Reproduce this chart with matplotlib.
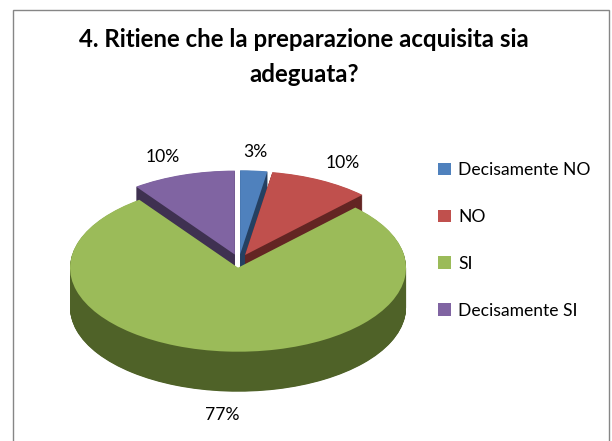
import matplotlib
matplotlib.use("Agg")
import matplotlib.pyplot as plt
from matplotlib.patches import Rectangle

plt.rcParams['font.family'] = ['Lato', 'DejaVu Sans']

categorie = ["Decisamente NO", "NO", "SI", "Decisamente SI"]
valori = [2.6, 9.7, 77.7, 10]
etichette = ["3%", "10%", "77%", "10%"]
colori = ["#4F81BD", "#C0504D", "#9BBB59", "#8064A2"]
colori_lato = ["#254061", "#632523", "#4F6228", "#3F3151"]
esplosione = [0.08, 0.08, 0.08, 0.08]
titolo = "4. Ritiene che la preparazione acquisita sia\nadeguata?"

W, H = 612, 441
cx, cy = 239, 261       # centro della torta in pixel
rx, ry = 168, 84        # raggi dell'ellisse in pixel
spessore = 40

fig = plt.figure(figsize=(W / 100, H / 100), dpi=100, facecolor="white")
ax = fig.add_axes([0, 0, 1, 1])


def disegna(colors, dy, z_retro, z_verde):
    wedges, _ = ax.pie(valori, explode=esplosione, colors=colors, startangle=90,
                       counterclock=False, center=(0, -dy / ry), radius=1,
                       wedgeprops={"linewidth": 0}, frame=True)
    for i, w in enumerate(wedges):
        w.set_zorder(z_verde if categorie[i] == "SI" else z_retro)
    return wedges


# fianco della torta: strati sovrapposti, poi la faccia superiore
for dy in range(spessore * 2, 0, -1):
    disegna(colori_lato, dy / 2, 1, 3)
fette = disegna(colori, 0, 2, 4)

ax.set_aspect("auto")
ax.set_xlim(-cx / rx, (W - cx) / rx)
ax.set_ylim((cy - H) / ry, cy / ry)
ax.axis("off")

# cornice
fig.add_artist(Rectangle((12.5 / W, -0.05), (609 - 12.5) / W, 1.05 - 10.5 / H,
                         transform=fig.transFigure, fill=False,
                         edgecolor="#868686", linewidth=1))

fig.text(304 / W, 1 - 57 / H, titolo, ha="center", va="center", fontsize=17.3,
         fontweight="bold", color="black", linespacing=1.63)

pos_etichette = [(255, 152), (343, 163), (222, 415), (163, 157)]
for (x, y), testo in zip(pos_etichette, etichette):
    fig.text(x / W, 1 - y / H, testo, ha="center", va="center", fontsize=12.6, color="black")

ax.legend(fette, categorie, loc="upper left", bbox_to_anchor=(433 / W, 1 - 157 / H),
          bbox_transform=fig.transFigure, frameon=False, fontsize=12.6,
          handlelength=0.74, handleheight=0.74, handletextpad=0.4,
          labelspacing=1.76, borderpad=0.3, borderaxespad=0)

fig.savefig("out.png", dpi=100)
